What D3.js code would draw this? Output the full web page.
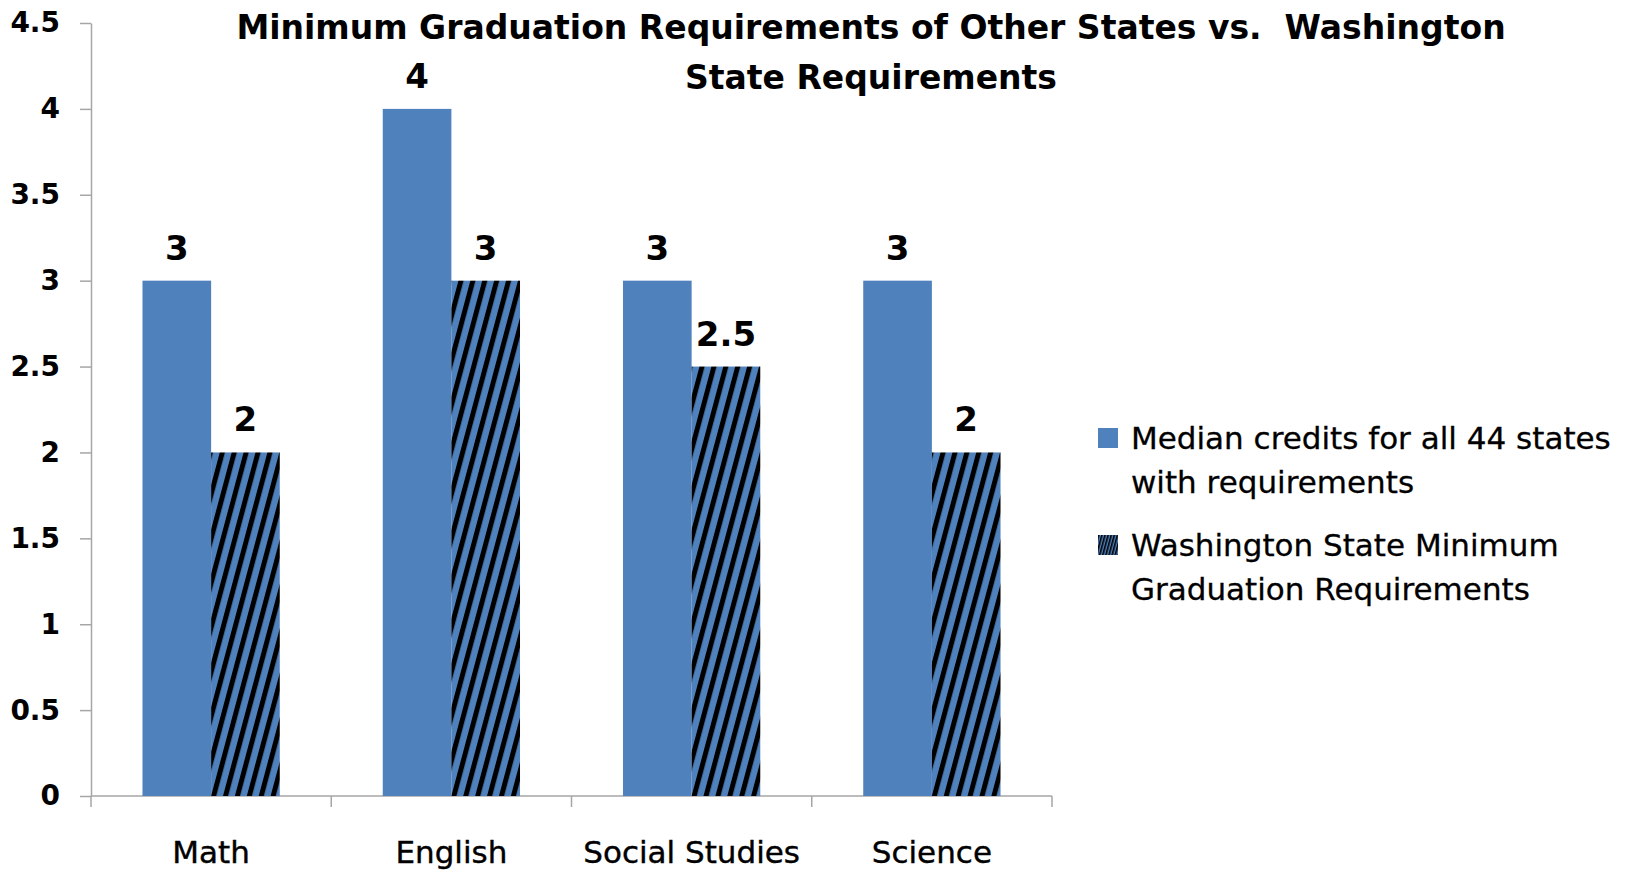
<!DOCTYPE html>
<html>
<head>
<meta charset="utf-8">
<script src="https://cdn.jsdelivr.net/npm/d3@7"></script>
<style>
  body { margin: 0; background: #fff; }
  text { font-family: "DejaVu Sans", sans-serif; fill: #000; }
</style>
</head>
<body>
<div id="chart"></div>
<script>
// data
var categories = ["Math", "English", "Social Studies", "Science"];
var seriesKeys = ["median", "washington"];
var medianCredits = [3, 4, 3, 3];
var washingtonCredits = [2, 3, 2.5, 2];
var yTicks = [0, 0.5, 1, 1.5, 2, 2.5, 3, 3.5, 4, 4.5];
var legendLabels = [
  ["Median credits for all 44 states", "with requirements"],
  ["Washington State Minimum", "Graduation Requirements"]
];
var titleLines = ["Minimum Graduation Requirements of Other States vs.  Washington", "State Requirements"];

var width = 1644, height = 872;
var blue = "#4f81bd";
var axisGrey = "#a6a6a6";

var svg = d3.select("#chart").append("svg")
    .attr("width", width)
    .attr("height", height);

svg.append("rect").attr("width", width).attr("height", height).attr("fill", "#fff");

// hatch patterns (black diagonal stripes over blue)
var defs = svg.append("defs");
function hatch(id, period, stripe) {
  var p = defs.append("pattern")
      .attr("id", id)
      .attr("patternUnits", "userSpaceOnUse")
      .attr("width", period)
      .attr("height", 40)
      .attr("patternTransform", "rotate(15)");
  p.append("rect").attr("width", period).attr("height", 40).attr("fill", blue);
  p.append("rect").attr("width", stripe).attr("height", 40).attr("fill", "#000");
}
hatch("hatch", 11.5, 5);
hatch("hatchSmall", 3, 1.6);

var x = d3.scaleBand().domain(categories).range([91, 1052]).paddingInner(0).paddingOuter(0);
var x1 = d3.scaleBand().domain(seriesKeys).range([0, x.bandwidth()]).paddingInner(0).paddingOuter(0.75);
var y = d3.scaleLinear().domain([0, 4.5]).range([796, 23]);

// y axis
var yAxis = svg.append("g")
    .attr("transform", "translate(" + x.range()[0] + ",0)")
    .call(d3.axisLeft(y).tickValues(yTicks).tickSize(11).tickPadding(20).tickFormat(d3.format("")).tickSizeOuter(0));
yAxis.select(".domain").attr("stroke", axisGrey).attr("stroke-width", 1.5);
yAxis.selectAll(".tick line").attr("stroke", axisGrey).attr("stroke-width", 1.5);
yAxis.selectAll(".tick text")
    .attr("font-family", "Liberation Sans, Arial, sans-serif")
    .attr("font-weight", "bold")
    .attr("font-size", 28)
    .attr("fill", "#000");

// x axis (line + boundary ticks)
var xAxis = svg.append("g").attr("transform", "translate(0," + y(0) + ")");
xAxis.append("line")
    .attr("x1", x.range()[0]).attr("x2", x.range()[1])
    .attr("stroke", axisGrey).attr("stroke-width", 1.5);
var bounds = categories.map(function(c) { return x(c); }).concat([x.range()[1]]);
xAxis.selectAll(".bt").data(bounds).enter().append("line")
    .attr("x1", function(d) { return d; })
    .attr("x2", function(d) { return d; })
    .attr("y1", 0).attr("y2", 11)
    .attr("stroke", axisGrey).attr("stroke-width", 1.5);
xAxis.selectAll(".cat").data(categories).enter().append("text")
    .attr("x", function(d) { return x(d) + x.bandwidth() / 2; })
    .attr("y", 67)
    .attr("text-anchor", "middle")
    .attr("font-size", 31)
    .attr("stroke", "#000")
    .attr("stroke-width", 0.4)
    .text(function(d) { return d; });

// bars
var rows = categories.map(function(c, i) {
  return { cat: c, median: medianCredits[i], washington: washingtonCredits[i] };
});

var groups = svg.selectAll(".grp").data(rows).enter().append("g")
    .attr("transform", function(d) { return "translate(" + x(d.cat) + ",0)"; });

var bars = groups.selectAll("g.bar")
    .data(function(d) { return seriesKeys.map(function(k) { return { key: k, value: d[k] }; }); })
    .enter().append("g").attr("class", "bar");

bars.append("rect")
    .attr("x", function(d) { return x1(d.key); })
    .attr("y", function(d) { return y(d.value); })
    .attr("width", x1.bandwidth())
    .attr("height", function(d) { return y(0) - y(d.value); })
    .attr("fill", function(d) { return d.key === "median" ? blue : "url(#hatch)"; });

bars.append("text")
    .attr("x", function(d) { return x1(d.key) + x1.bandwidth() / 2; })
    .attr("y", function(d) { return y(d.value) - 21; })
    .attr("text-anchor", "middle")
    .attr("font-weight", "bold")
    .attr("font-size", 34)
    .text(function(d) { return d.value; });

// title
svg.append("g").selectAll("text").data(titleLines).enter().append("text")
    .attr("x", 871)
    .attr("y", function(d, i) { return 39 + i * 50; })
    .attr("text-anchor", "middle")
    .attr("font-family", "Liberation Sans, Arial, sans-serif")
    .attr("font-weight", "bold")
    .attr("font-size", 33)
    .style("white-space", "pre")
    .text(function(d) { return d; });

// legend
var legend = svg.append("g").attr("transform", "translate(1098,0)");
var legendTops = [428, 535];
var item = legend.selectAll(".lg").data(legendLabels).enter().append("g")
    .attr("transform", function(d, i) { return "translate(0," + legendTops[i] + ")"; });
item.append("rect")
    .attr("width", 20).attr("height", 20)
    .attr("fill", function(d, i) { return i === 0 ? blue : "url(#hatchSmall)"; });
item.each(function(lines) {
  d3.select(this).selectAll("text").data(lines).enter().append("text")
      .attr("x", 33)
      .attr("y", function(d, j) { return 21 + j * 44; })
      .attr("font-size", 31)
      .attr("stroke", "#000")
      .attr("stroke-width", 0.3)
      .text(function(d) { return d; });
});
</script>
</body>
</html>
